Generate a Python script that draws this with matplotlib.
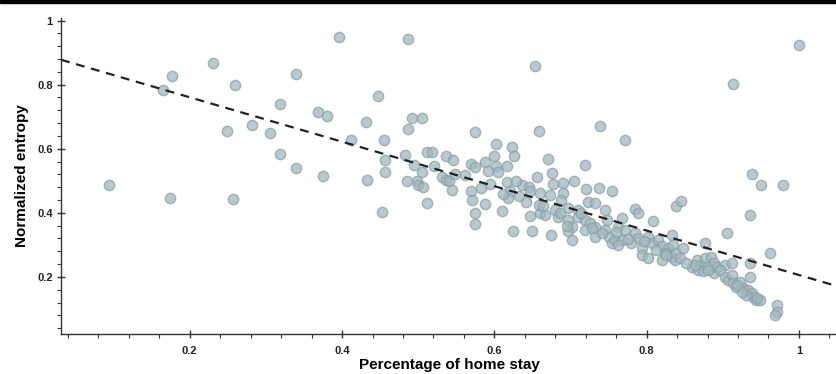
import numpy as np
import matplotlib
matplotlib.use("Agg")
import matplotlib.pyplot as plt
from matplotlib.ticker import MultipleLocator, FuncFormatter
from matplotlib.patches import Rectangle

plt.rcParams['font.family'] = ['Liberation Sans', 'DejaVu Sans']

# home stay share (x) vs normalized entropy (y)
home_stay = [
    0.094, 0.165, 0.176, 0.174, 0.230, 0.259, 0.249, 0.257, 0.282, 0.305,
    0.319, 0.319, 0.340, 0.340, 0.369, 0.380, 0.375, 0.396, 0.412, 0.431,
    0.433, 0.447, 0.452, 0.455, 0.456, 0.456, 0.483, 0.485, 0.487, 0.487,
    0.492, 0.505, 0.494, 0.511, 0.518, 0.505, 0.521, 0.498, 0.500, 0.506,
    0.512, 0.531, 0.537, 0.540, 0.536, 0.546, 0.544, 0.561, 0.569, 0.574,
    0.569, 0.571, 0.575, 0.575, 0.574, 0.588, 0.591, 0.600, 0.602, 0.602,
    0.605, 0.594, 0.588, 0.610, 0.616, 0.616, 0.621, 0.618, 0.623, 0.626,
    0.625, 0.636, 0.645, 0.647, 0.642, 0.647, 0.650, 0.653, 0.658, 0.656,
    0.660, 0.670, 0.676, 0.677, 0.690, 0.704, 0.660, 0.673, 0.690, 0.688,
    0.658, 0.666, 0.680, 0.684, 0.697, 0.710, 0.710, 0.697, 0.702, 0.697,
    0.702, 0.675, 0.719, 0.739, 0.771, 0.721, 0.737, 0.754, 0.723, 0.732,
    0.745, 0.785, 0.719, 0.726, 0.719, 0.732, 0.732, 0.748, 0.745, 0.750,
    0.754, 0.758, 0.767, 0.763, 0.772, 0.767, 0.763, 0.789, 0.785, 0.789,
    0.780, 0.809, 0.802, 0.807, 0.815, 0.820, 0.828, 0.824, 0.794, 0.794,
    0.802, 0.820, 0.833, 0.837, 0.833, 0.839, 0.845, 0.835, 0.839, 0.848,
    0.844, 0.859, 0.866, 0.872, 0.877, 0.879, 0.885, 0.888, 0.888, 0.892,
    0.868, 0.874, 0.881, 0.863, 0.877, 0.903, 0.912, 0.936, 0.936, 0.903,
    0.907, 0.912, 0.914, 0.918, 0.923, 0.927, 0.933, 0.938, 0.940, 0.944,
    0.949, 0.931, 0.925, 0.971, 0.971, 0.969, 0.905, 0.936, 0.962, 0.914,
    1.000, 0.939, 0.950, 0.979,
    0.548, 0.583, 0.612, 0.632, 0.664, 0.686, 0.714, 0.728, 0.742, 0.760,
    0.776, 0.796, 0.812, 0.826, 0.852, 0.896, 0.919, 0.945, 0.628, 0.695,
]
entropy = [
    0.488, 0.782, 0.826, 0.445, 0.868, 0.798, 0.656, 0.443, 0.674, 0.649,
    0.740, 0.584, 0.833, 0.540, 0.715, 0.703, 0.516, 0.949, 0.628, 0.683,
    0.503, 0.763, 0.402, 0.628, 0.566, 0.526, 0.581, 0.500, 0.663, 0.941,
    0.696, 0.696, 0.550, 0.590, 0.590, 0.526, 0.547, 0.498, 0.488, 0.482,
    0.430, 0.511, 0.503, 0.498, 0.576, 0.566, 0.472, 0.519, 0.552, 0.542,
    0.467, 0.441, 0.401, 0.366, 0.651, 0.560, 0.532, 0.576, 0.615, 0.545,
    0.526, 0.490, 0.427, 0.407, 0.545, 0.496, 0.467, 0.446, 0.604, 0.576,
    0.342, 0.488, 0.482, 0.467, 0.435, 0.391, 0.342, 0.857, 0.656, 0.513,
    0.399, 0.569, 0.524, 0.490, 0.493, 0.500, 0.462, 0.456, 0.462, 0.441,
    0.425, 0.394, 0.409, 0.388, 0.415, 0.409, 0.388, 0.378, 0.357, 0.342,
    0.316, 0.331, 0.550, 0.670, 0.626, 0.475, 0.477, 0.467, 0.435, 0.430,
    0.409, 0.413, 0.378, 0.368, 0.347, 0.357, 0.326, 0.378, 0.347, 0.326,
    0.305, 0.316, 0.383, 0.357, 0.347, 0.316, 0.300, 0.399, 0.337, 0.321,
    0.305, 0.373, 0.326, 0.305, 0.316, 0.295, 0.290, 0.274, 0.290, 0.269,
    0.258, 0.253, 0.263, 0.253, 0.331, 0.422, 0.438, 0.300, 0.274, 0.290,
    0.258, 0.232, 0.253, 0.238, 0.258, 0.232, 0.263, 0.243, 0.212, 0.232,
    0.222, 0.217, 0.222, 0.238, 0.307, 0.238, 0.243, 0.243, 0.199, 0.201,
    0.191, 0.206, 0.180, 0.170, 0.185, 0.165, 0.159, 0.149, 0.138, 0.128,
    0.128, 0.144, 0.154, 0.113, 0.092, 0.081, 0.338, 0.394, 0.276, 0.803,
    0.923, 0.522, 0.487, 0.487,
    0.520, 0.478, 0.458, 0.452, 0.420, 0.398, 0.398, 0.352, 0.338, 0.340,
    0.318, 0.312, 0.283, 0.268, 0.245, 0.222, 0.176, 0.134, 0.500, 0.360,
]

# fitted trend line (intercept, slope)
fit_intercept = 0.899
fit_slope = -0.693

fig = plt.figure(figsize=(8.37, 3.74), dpi=100)
ax = fig.add_axes([0.073, 0.107, 0.927, 0.845])

ax.scatter(home_stay, entropy, s=55, facecolor='#a3b7be', edgecolor='#87a0a8',
           linewidth=1.0, alpha=0.75, zorder=2)

x0, x1 = 0.031, 1.05
xs = np.array([x0, x1])
ax.plot(xs, fit_intercept + fit_slope * xs, color='#222222', linestyle=(0, (4, 3)),
        linewidth=1.6, zorder=3)

ax.set_xlim(x0, x1)
ax.set_ylim(0.022, 1.008)

for side in ['top', 'right']:
    ax.spines[side].set_visible(False)
for side in ['left', 'bottom']:
    ax.spines[side].set_linewidth(1.0)
    ax.spines[side].set_color('#333333')

ax.xaxis.set_major_locator(MultipleLocator(0.2))
ax.xaxis.set_minor_locator(MultipleLocator(0.04))
ax.yaxis.set_major_locator(MultipleLocator(0.2))
ax.yaxis.set_minor_locator(MultipleLocator(0.04))
fmt = FuncFormatter(lambda v, _: '1' if abs(v - 1) < 1e-6 else ('' if v < 0.1 else f'{v:.1f}'))
ax.xaxis.set_major_formatter(fmt)
ax.yaxis.set_major_formatter(fmt)

ax.tick_params(which='major', direction='inout', length=6, width=1.0, color='#333333',
               labelsize=8, pad=3)
ax.tick_params(axis='x', which='major', pad=6)
ax.tick_params(which='minor', direction='out', length=3, width=0.8, color='#333333')
for lab in ax.get_xticklabels() + ax.get_yticklabels():
    lab.set_fontweight('bold')
    lab.set_color('#222222')

ax.set_xlabel('Percentage of home stay', fontsize=11, fontweight='bold', labelpad=1)
ax.set_ylabel('Normalized entropy', fontsize=11, fontweight='bold', labelpad=6)

# dark strip along the top edge
fig.patches.append(Rectangle((0, 0.993), 1, 0.007, transform=fig.transFigure,
                             color='black', zorder=10))

fig.savefig('out.png', dpi=100)
